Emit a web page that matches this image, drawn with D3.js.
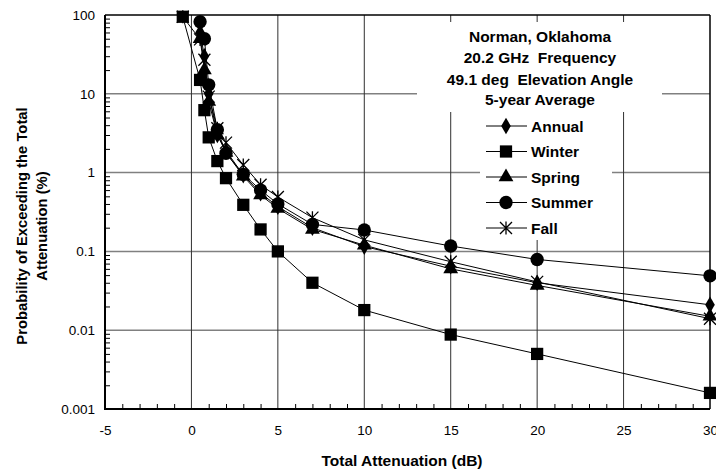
<!DOCTYPE html>
<html><head><meta charset="utf-8">
<script src="https://cdn.jsdelivr.net/npm/d3@7"></script>
<style>body{margin:0;background:#fff;} svg{display:block;font-family:"Liberation Sans",Arial,Helvetica,sans-serif;} text{white-space:pre;}</style>
</head><body><svg id="c" width="716" height="470"></svg>
<script>
// ---- data ----
const attenA = [0.5, 0.75, 1, 1.5, 2, 3, 4, 5, 7, 10, 15, 20, 30];
const attenB = [-0.5, 0.5, 0.75, 1, 1.5, 2, 3, 4, 5, 7, 10, 15, 20, 30];
const annual = [60, 30, 10, 3.0, 1.9, 0.93, 0.55, 0.37, 0.2, 0.115, 0.065, 0.04, 0.021];
const winter = [95, 15, 6.2, 2.8, 1.4, 0.85, 0.39, 0.19, 0.10, 0.040, 0.018, 0.0088, 0.005, 0.0016];
const spring = [50, 20, 8, 3.0, 1.8, 0.9, 0.52, 0.35, 0.19, 0.12, 0.06, 0.037, 0.015];
const summer = [82, 50, 13, 3.5, 1.76, 0.95, 0.6, 0.4, 0.22, 0.187, 0.117, 0.079, 0.049];
const fall   = [95, 49, 27, 9.2, 3.65, 2.4, 1.25, 0.70, 0.49, 0.268, 0.14, 0.074, 0.041, 0.014];
const seriesNames = ["Annual", "Winter", "Spring", "Summer", "Fall"];
const xTicks = [-5, 0, 5, 10, 15, 20, 25, 30];
const xTickLabels = ["-5", "0", "5", "10", "15", "20", "25", "30"];
const yTicks = [100, 10, 1, 0.1, 0.01, 0.001];
const yTickLabels = ["100", "10", "1", "0.1", "0.01", "0.001"];
const titleLines = ["Norman, Oklahoma", "20.2 GHz  Frequency", "49.1 deg  Elevation Angle", "5-year Average"];

const series = [
  {name: seriesNames[0], xs: attenA, ys: annual, shape: "diamond"},
  {name: seriesNames[1], xs: attenB, ys: winter, shape: "square"},
  {name: seriesNames[2], xs: attenA, ys: spring, shape: "triangle"},
  {name: seriesNames[3], xs: attenA, ys: summer, shape: "circle"},
  {name: seriesNames[4], xs: attenB, ys: fall,   shape: "star"}
];

// ---- layout ----
const L = 105, R = 710, T = 15, B = 409;
const svg = d3.select("#c");
const x = d3.scaleLinear().domain([-5, 30]).range([L, R]);
const y = d3.scaleLog().domain([0.001, 100]).range([B, T]);

// gridlines
const g = svg.append("g");
g.selectAll("line.hg").data(yTicks.filter(v => v > 0.001 && v < 100)).enter().append("line")
  .attr("x1", L).attr("x2", R).attr("y1", d => y(d)).attr("y2", d => y(d))
  .attr("stroke", "#808080").attr("stroke-width", 1.5);
g.selectAll("line.vg").data(xTicks.filter(v => v > -5 && v < 30)).enter().append("line")
  .attr("x1", d => x(d)).attr("x2", d => x(d)).attr("y1", T).attr("y2", B)
  .attr("stroke", "#303030").attr("stroke-width", 1);

// white boxes behind the annotation and legend
svg.append("rect").attr("x", 417).attr("y", 22).attr("width", 245).attr("height", 90).attr("fill", "#fff");
svg.append("rect").attr("x", 480).attr("y", 112).attr("width", 132).attr("height", 128).attr("fill", "#fff");

// minor ticks y (inside)
const minors = [];
for (let e = -3; e < 2; e++) for (let m = 2; m <= 9; m++) minors.push(m * Math.pow(10, e));
svg.append("g").attr("transform", `translate(${L},0)`)
  .call(d3.axisRight(y).tickValues(minors).tickSize(5).tickFormat(""))
  .call(s => s.select(".domain").remove())
  .selectAll("line").attr("stroke", "#000");
// minor ticks x (inside)
svg.append("g").attr("transform", `translate(0,${B})`)
  .call(d3.axisTop(x).tickValues(d3.range(-4, 30, 1).filter(v => v % 5 !== 0)).tickSize(5).tickFormat(""))
  .call(s => s.select(".domain").remove())
  .selectAll("line").attr("stroke", "#000");

// frame
svg.append("line").attr("x1", L).attr("x2", R).attr("y1", T).attr("y2", T).attr("stroke", "#000").attr("stroke-width", 1.5);
svg.append("line").attr("x1", R).attr("x2", R).attr("y1", T).attr("y2", B).attr("stroke", "#000").attr("stroke-width", 1.5);

// axes labels
const ya = svg.append("g").attr("transform", `translate(${L},0)`)
  .call(d3.axisLeft(y).tickValues(yTicks).tickSize(0).tickPadding(10).tickFormat(d => yTickLabels[yTicks.indexOf(d)]));
ya.select(".domain").remove();
ya.selectAll("text").attr("font-size", 13.5).attr("font-family", "Liberation Sans, Arial, sans-serif").attr("fill", "#000");
const xa = svg.append("g").attr("transform", `translate(0,${B})`)
  .call(d3.axisBottom(x).tickValues(xTicks).tickSize(0).tickPadding(16).tickFormat(d => xTickLabels[xTicks.indexOf(d)]));
xa.select(".domain").remove();
xa.selectAll("text").attr("font-size", 13.5).attr("font-family", "Liberation Sans, Arial, sans-serif").attr("fill", "#000");

svg.append("line").attr("x1", L).attr("x2", L).attr("y1", T).attr("y2", B + 1).attr("stroke", "#000").attr("stroke-width", 2);
svg.append("line").attr("x1", L - 1).attr("x2", R).attr("y1", B).attr("y2", B).attr("stroke", "#000").attr("stroke-width", 2);

// axis titles
svg.append("text").attr("x", 402).attr("y", 466).attr("text-anchor", "middle")
  .attr("font-weight", "bold").attr("font-size", 15.5).text("Total Attenuation (dB)");
const yt = svg.append("text").attr("transform", "translate(0,226) rotate(-90)").attr("text-anchor", "middle")
  .attr("font-weight", "bold").attr("font-size", 14.8);
yt.append("tspan").attr("x", 0).attr("y", 27).text("Probability of Exceeding the Total");
yt.append("tspan").attr("x", 0).attr("y", 47).text("Attenuation (%)");

// markers
function marker(sel, shape) {
  if (shape === "square") sel.append("path").attr("d", d3.symbol(d3.symbolSquare, 150)()).attr("fill", "#000");
  else if (shape === "circle") sel.append("path").attr("d", d3.symbol(d3.symbolCircle, 140)()).attr("fill", "#000");
  else if (shape === "triangle") sel.append("path").attr("d", d3.symbol(d3.symbolTriangle, 95)()).attr("fill", "#000");
  else if (shape === "diamond") sel.append("path").attr("d", d3.symbol(d3.symbolDiamond, 80)()).attr("fill", "#000");
  else if (shape === "star") sel.append("path").attr("d", "M-6,-6L6,6M-6,6L6,-6M0,-6.5L0,6.5").attr("stroke", "#000").attr("stroke-width", 1.3).attr("fill", "none");
}

const line = d3.line().x(d => x(d[0])).y(d => y(d[1]));
series.forEach(s => {
  const pts = s.xs.map((v, i) => [v, s.ys[i]]);
  svg.append("path").attr("d", line(pts)).attr("fill", "none").attr("stroke", "#000").attr("stroke-width", 1);
});
series.forEach(s => {
  const pts = s.xs.map((v, i) => [v, s.ys[i]]);
  pts.forEach(p => {
    const gm = svg.append("g").attr("transform", `translate(${x(p[0])},${y(p[1])})`);
    marker(gm, s.shape);
  });
});

// annotation
titleLines.forEach((t, i) => {
  svg.append("text").attr("x", 540).attr("y", [37, 58, 80, 100][i]).attr("dy", "0.35em").attr("text-anchor", "middle")
    .attr("font-weight", "bold").attr("font-size", 15.5).text(t);
});
// legend
series.forEach((s, i) => {
  const ly = 126 + i * 25.5;
  svg.append("line").attr("x1", 486).attr("x2", 527).attr("y1", ly).attr("y2", ly).attr("stroke", "#000").attr("stroke-width", 1);
  const gm = svg.append("g").attr("transform", `translate(506,${ly})`);
  marker(gm, s.shape);
  svg.append("text").attr("x", 531).attr("y", ly).attr("dy", "0.36em").attr("font-weight", "bold").attr("font-size", 15.5).text(s.name);
});
</script></body></html>
